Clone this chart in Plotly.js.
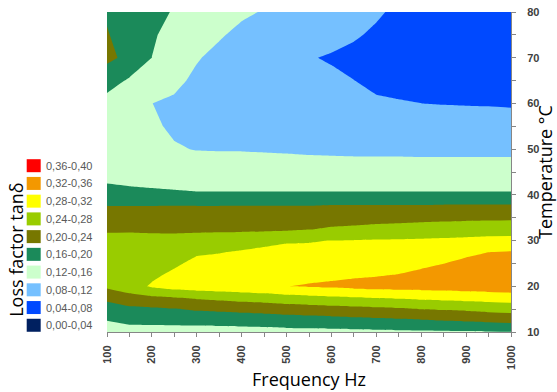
<!DOCTYPE html>
<html>
<head>
<meta charset="utf-8">
<script src="https://cdn.plot.ly/plotly-3.0.1.min.js"></script>
<style>
html,body{margin:0;padding:0;background:#ffffff;}
#chart{width:557px;height:392px;}
</style>
</head>
<body>
<div id="chart"></div>
<script>
// ---------------- data ----------------
const frequencyHz = [100,150,200,250,300,350,400,450,500,550,600,650,700,750,800,850,900,950,1000];
const temperatureC = [10,12.5,15,17.5,20,22.5,25,27.5,30,32.5,35,37.5,40,42.5,45,50,55,60,65,70,75,80];

// loss factor tan delta per frequency column (values listed from 10 °C up to 80 °C)
const tanDelta100  = [0.137,0.1602,0.183,0.209,0.247,0.258,0.262,0.260,0.249,0.236,0.217,0.2007,0.180,0.1598,0.145,0.136,0.135,0.145,0.178,0.208,0.203,0.195];
const tanDelta150  = [0.1454,0.1682,0.191,0.226,0.262,0.270,0.272,0.265,0.250,0.236,0.2173,0.2007,0.176,0.155,0.142,0.134,0.132,0.140,0.155,0.191,0.178,0.172];
const tanDelta200  = [0.1447,0.1694,0.194,0.233,0.285,0.272,0.265,0.258,0.250,0.2345,0.2173,0.2007,0.172,0.152,0.143,0.131,0.125,0.1203,0.135,0.1599,0.1628,0.180];
const tanDelta250  = [0.1438,0.1708,0.1978,0.2383,0.2965,0.288,0.2735,0.261,0.2485,0.2347,0.218,0.2013,0.168,0.150,0.141,0.1228,0.115,0.1127,0.1309,0.142,0.152,0.155];
const tanDelta300  = [0.143,0.1733,0.2046,0.245,0.302,0.299,0.290,0.2745,0.2533,0.2337,0.218,0.2013,0.165,0.148,0.140,0.1187,0.112,0.109,0.1107,0.1236,0.135,0.145];
const tanDelta350  = [0.1438,0.175,0.2077,0.250,0.305,0.302,0.293,0.278,0.256,0.2337,0.2183,0.2012,0.165,0.148,0.139,0.118,0.111,0.107,0.105,0.1074,0.1249,0.138];
const tanDelta400  = [0.1445,0.1768,0.2112,0.256,0.308,0.305,0.297,0.284,0.2595,0.2338,0.2186,0.2014,0.165,0.148,0.138,0.118,0.110,0.105,0.103,0.104,0.1085,0.1277];
const tanDelta450  = [0.1453,0.1787,0.2144,0.260,0.312,0.308,0.300,0.292,0.2642,0.234,0.219,0.2014,0.165,0.148,0.138,0.117,0.108,0.102,0.099,0.098,0.110,0.117];
const tanDelta500  = [0.148,0.1813,0.2183,0.2667,0.3196,0.312,0.302,0.291,0.276,0.234,0.2193,0.2014,0.165,0.148,0.137,0.116,0.105,0.098,0.094,0.090,0.095,0.102];
const tanDelta550  = [0.149,0.1834,0.2217,0.2711,0.323,0.311,0.300,0.2895,0.2775,0.2385,0.2204,0.2015,0.165,0.148,0.137,0.114,0.104,0.096,0.090,0.082,0.092,0.100];
const tanDelta600  = [0.150,0.1857,0.225,0.2746,0.326,0.313,0.302,0.291,0.2805,0.2443,0.2234,0.2045,0.165,0.148,0.137,0.113,0.104,0.094,0.0863,0.077,0.0906,0.097];
const tanDelta650  = [0.1511,0.1881,0.2284,0.2779,0.331,0.315,0.3038,0.2925,0.2813,0.2474,0.224,0.204,0.165,0.148,0.137,0.112,0.103,0.092,0.081,0.0563,0.0902,0.095];
const tanDelta700  = [0.1523,0.1908,0.2317,0.2812,0.334,0.3172,0.3057,0.2942,0.2827,0.2519,0.2255,0.2043,0.165,0.148,0.137,0.112,0.104,0.0947,0.056,0.055,0.0659,0.092];
const tanDelta750  = [0.1536,0.1936,0.235,0.2847,0.336,0.321,0.3085,0.296,0.2835,0.2543,0.2267,0.2044,0.165,0.148,0.137,0.112,0.098,0.0815,0.0732,0.066,0.063,0.062];
const tanDelta800  = [0.154,0.1966,0.2405,0.2889,0.336,0.328,0.3127,0.2986,0.2845,0.2573,0.2286,0.2048,0.165,0.148,0.137,0.111,0.100,0.0801,0.072,0.068,0.066,0.064];
const tanDelta850  = [0.1545,0.2005,0.2437,0.2919,0.336,0.334,0.3195,0.303,0.2861,0.2594,0.2302,0.2058,0.165,0.148,0.137,0.111,0.099,0.0788,0.071,0.067,0.065,0.063];
const tanDelta900  = [0.156,0.2035,0.247,0.2947,0.340,0.342,0.3313,0.3097,0.2882,0.261,0.2318,0.2061,0.165,0.148,0.137,0.111,0.098,0.078,0.070,0.066,0.064,0.062];
const tanDelta950  = [0.158,0.207,0.252,0.297,0.343,0.347,0.343,0.3195,0.2914,0.2618,0.2327,0.2067,0.165,0.148,0.137,0.111,0.097,0.0775,0.069,0.065,0.063,0.061];
const tanDelta1000 = [0.159,0.211,0.255,0.300,0.345,0.350,0.348,0.322,0.292,0.262,0.234,0.207,0.165,0.148,0.137,0.111,0.097,0.076,0.068,0.064,0.062,0.060];

// legend bands (low -> high)
const bandLabels = ['0,00-0,04','0,04-0,08','0,08-0,12','0,12-0,16','0,16-0,20','0,20-0,24','0,24-0,28','0,28-0,32','0,32-0,36','0,36-0,40'];
const xTickValues = [100,200,300,400,500,600,700,800,900,1000];
const yTickValues = [10,20,30,40,50,60,70,80];

// ---------------- styles ----------------
const bandColors = ['#002060','#0049FF','#75C0FF','#CCFFCC','#1B8A5A','#777700','#99CC00','#FFFF00','#F39800','#FF0000'];

const columns = [tanDelta100,tanDelta150,tanDelta200,tanDelta250,tanDelta300,tanDelta350,tanDelta400,tanDelta450,tanDelta500,tanDelta550,tanDelta600,tanDelta650,tanDelta700,tanDelta750,tanDelta800,tanDelta850,tanDelta900,tanDelta950,tanDelta1000];
const z = temperatureC.map((t, i) => columns.map(col => col[i]));

// piecewise-constant colour scale: band k is sampled at k/9
const nb = bandColors.length - 1;
const colorscale = [];
bandColors.forEach((c, k) => {
  const lo = k === 0 ? 0 : (k - 0.5) / nb;
  const hi = k === nb ? 1 : (k + 0.5) / nb;
  colorscale.push([lo, c]);
  colorscale.push([hi, c]);
});

const trace = {
  type: 'contour',
  x: frequencyHz,
  y: temperatureC,
  z: z,
  autocontour: false,
  contours: {start: 0.04, end: 0.36, size: 0.04, coloring: 'fill', showlines: false},
  line: {width: 0, smoothing: 0},
  colorscale: colorscale,
  showscale: false,
  hoverinfo: 'skip'
};

// plot area in pixels
const L = 107, W = 404, T0 = 12, H = 320;
const px = v => (v - L) / W;
const py = v => (T0 + H - v) / H;

const shapes = [];
const annotations = [];
const rowTop = 165.7, rowStep = 17.73;
for (let j = 0; j < bandLabels.length; j++) {
  const k = bandLabels.length - 1 - j;   // top row = highest band
  const cy = rowTop + rowStep * j;
  shapes.push({type: 'rect', xref: 'paper', yref: 'paper',
    x0: px(26.7), x1: px(40.7), y0: py(cy + 6.5), y1: py(cy - 6.5),
    fillcolor: bandColors[k], line: {width: 0}});
  annotations.push({xref: 'paper', yref: 'paper', x: px(44), y: py(cy),
    xanchor: 'left', yanchor: 'middle', showarrow: false, text: bandLabels[k],
    font: {family: 'Liberation Sans, Arial, sans-serif', size: 11, color: '#595959'}});
}
annotations.push({xref: 'paper', yref: 'paper', x: px(15.8), y: py(250),
  xanchor: 'center', yanchor: 'middle', showarrow: false, textangle: -90,
  text: 'Loss factor tanδ', font: {family: 'Open Sans, sans-serif', size: 18, color: '#000000'}});

const tickFont = {family: 'Liberation Sans, Arial, sans-serif', size: 11, color: '#404040', weight: 'bold'};

const layout = {
  width: 557, height: 392,
  margin: {l: L, r: 557 - L - W, t: T0, b: 392 - T0 - H, pad: 0},
  paper_bgcolor: '#ffffff', plot_bgcolor: '#ffffff',
  showlegend: false,
  xaxis: {
    range: [100, 1000], tickvals: xTickValues, ticktext: xTickValues.map(String),
    ticks: 'outside', ticklen: 4, tickcolor: '#868686', tickwidth: 1,
    minor: {dtick: 50, tick0: 100, ticks: 'outside', ticklen: 4, tickcolor: '#868686', showgrid: false},
    tickangle: -90, tickfont: tickFont, ticklabelstandoff: 4,
    showline: true, linecolor: '#868686', linewidth: 1,
    showgrid: false, zeroline: false, fixedrange: true,
    title: {text: 'Frequency Hz', font: {family: 'Open Sans, sans-serif', size: 18, color: '#000000'}, standoff: 4}
  },
  yaxis: {
    side: 'right', range: [10, 80], tickvals: yTickValues, ticktext: yTickValues.map(String),
    ticks: 'outside', ticklen: 4, tickcolor: '#868686', tickwidth: 1,
    minor: {dtick: 5, tick0: 10, ticks: 'outside', ticklen: 4, tickcolor: '#868686', showgrid: false},
    tickfont: tickFont, ticklabelstandoff: 9,
    showline: true, linecolor: '#868686', linewidth: 1,
    showgrid: false, zeroline: false, fixedrange: true,
    title: {text: 'Temperature °C', font: {family: 'Open Sans, sans-serif', size: 18, color: '#000000'}, standoff: 4}
  },
  shapes: shapes,
  annotations: annotations
};

Plotly.newPlot('chart', [trace], layout, {staticPlot: true, displayModeBar: false});
</script>
</body>
</html>
